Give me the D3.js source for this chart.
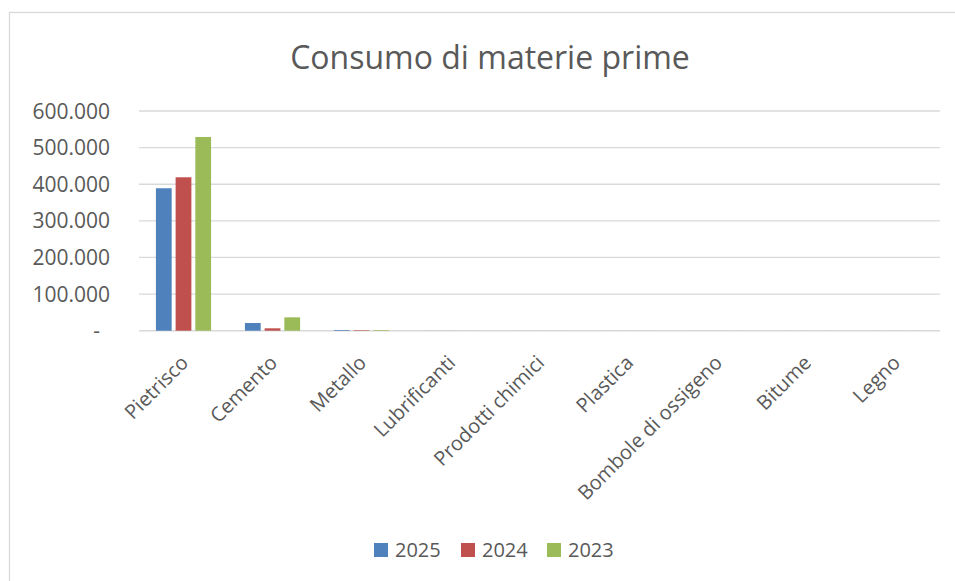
<!DOCTYPE html>
<html>
<head>
<meta charset="utf-8">
<script src="https://cdn.jsdelivr.net/npm/d3@7/dist/d3.min.js"></script>
<style>
  html, body { margin: 0; padding: 0; background: #fff; }
  svg { display: block; }
  text { font-family: "Open Sans", "Noto Sans", sans-serif; fill: #595959; }
</style>
</head>
<body>
<svg id="chart" width="955" height="581"></svg>
<script>
// Raw material consumption by category and year
const categories = ["Pietrisco", "Cemento", "Metallo", "Lubrificanti", "Prodotti chimici",
                    "Plastica", "Bombole di ossigeno", "Bitume", "Legno"];
const years = ["2025", "2024", "2023"];
const values2025 = [389000, 21000, 2000, 150, 100, 80, 60, 50, 40];
const values2024 = [419000, 6500, 1500, 140, 90, 70, 60, 50, 40];
const values2023 = [529000, 36500, 1800, 160, 110, 90, 60, 50, 40];
const yTicks = [0, 100000, 200000, 300000, 400000, 500000, 600000];
const colors = ["#4F81BD", "#C0504D", "#9BBB59"];

const seriesValues = [values2025, values2024, values2023];

const svg = d3.select("#chart");

// chart frame
svg.append("rect")
  .attr("x", 9.5).attr("y", 12.5)
  .attr("width", 1000).attr("height", 1000)
  .attr("fill", "#fff").attr("stroke", "#D9D9D9").attr("stroke-width", 1.3);

const plot = { left: 139, right: 940, top: 111, bottom: 330.7 };

const x0 = d3.scaleBand().domain(categories).range([plot.left, plot.right]);
const x1 = d3.scaleBand().domain(years)
  .range([x0.bandwidth() * 0.19, x0.bandwidth() * 0.81])
  .paddingInner(0.2);
const y = d3.scaleLinear().domain([0, 600000]).range([plot.bottom, plot.top]);

// title
svg.append("text")
  .attr("x", 490).attr("y", 69)
  .attr("text-anchor", "middle")
  .style("font-size", "32px")
  .text("Consumo di materie prime");

// horizontal gridlines
svg.append("g")
  .selectAll("line")
  .data(yTicks)
  .join("line")
  .attr("x1", plot.left).attr("x2", plot.right)
  .attr("y1", d => y(d)).attr("y2", d => y(d))
  .attr("stroke", "#D9D9D9")
  .attr("stroke-width", d => d === 0 ? 1.6 : 1.3);

// y axis labels
const fmt = d => d === 0 ? "-" : d3.format(",")(d).replace(/,/g, ".");
svg.append("g")
  .selectAll("text")
  .data(yTicks)
  .join("text")
  .attr("x", d => d === 0 ? 100 : 110)
  .attr("y", d => y(d))
  .attr("dy", "0.36em")
  .attr("text-anchor", "end")
  .style("font-size", "21px")
  .text(fmt);

// bars
const rows = categories.map((c, i) => ({ cat: c, vals: years.map((yr, j) => ({ yr, j, v: seriesValues[j][i] })) }));
svg.append("g")
  .selectAll("g")
  .data(rows)
  .join("g")
  .attr("transform", d => `translate(${x0(d.cat)},0)`)
  .selectAll("rect")
  .data(d => d.vals)
  .join("rect")
  .attr("x", d => x1(d.yr))
  .attr("width", x1.bandwidth())
  .attr("y", d => y(d.v))
  .attr("height", d => y(0) - y(d.v))
  .attr("fill", d => colors[d.j]);

// category labels, rotated
svg.append("g")
  .selectAll("text")
  .data(categories)
  .join("text")
  .attr("text-anchor", "end")
  .attr("transform", d => `translate(${x0(d) + x0.bandwidth() / 2 + 6},364) rotate(-45)`)
  .style("font-size", "20px")
  .text(d => d);

// legend
const legendX = [374, 461, 547];
const legend = svg.append("g")
  .selectAll("g")
  .data(years)
  .join("g")
  .attr("transform", (d, i) => `translate(${legendX[i]},543)`);
legend.append("rect")
  .attr("width", 14).attr("height", 14)
  .attr("fill", (d, i) => colors[i]);
legend.append("text")
  .attr("x", 21).attr("y", 14)
  .style("font-size", "20px")
  .text(d => d);
</script>
</body>
</html>
